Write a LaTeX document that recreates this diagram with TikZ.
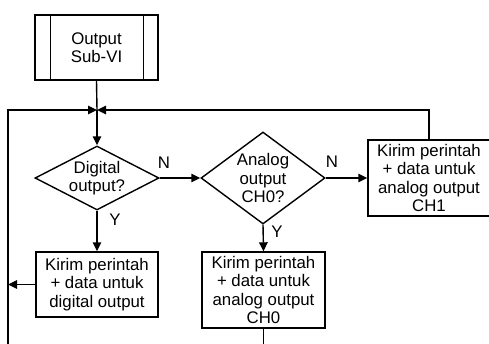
\documentclass[tikz,border=0pt]{standalone}
\usepackage{fontspec}
\setmainfont{Liberation Sans}
\usetikzlibrary{shapes.geometric,arrows.meta}
\begin{document}
\begin{tikzpicture}[x=1pt,y=-1pt,
  line width=1.4pt,
  every node/.style={font=\fontsize{16.8}{18.5}\selectfont, align=center},
  box/.style={draw, rectangle, inner sep=0pt, minimum width=122pt},
  dia/.style={draw, diamond, inner sep=0pt},
  lbl/.style={inner sep=0pt},
  arr/.style={-{Triangle[length=9pt,width=8.5pt]}}]
\useasboundingbox (0,0) rectangle (489,343);
% nodes
\node[box, minimum width=123pt, minimum height=65pt] (sub) at (96.5,47.5) {Output\\Sub-VI};
\draw ([xshift=16pt]sub.north west) -- ([xshift=16pt]sub.south west);
\draw ([xshift=-15pt]sub.north east) -- ([xshift=-15pt]sub.south east);
\coordinate (J) at (97,110);
\coordinate (L) at (8,110);
\coordinate (Lb) at (8,344);
\node[dia, minimum width=124pt, minimum height=64pt] (d1) at (97,178) {};
\node[lbl] (d1t) at (d1) {Digital\\output?};
\node[dia, minimum width=124pt, minimum height=92pt] (d2) at (263,178) {};
\node[lbl] (d2t) at (d2) {Analog\\output\\CH0?};
\node[box, minimum height=76pt] (c1) at (429,178) {Kirim perintah\\+ data untuk\\analog output\\CH1};
\node[box, minimum height=65pt] (b1) at (97,284.5) {Kirim perintah\\+ data untuk\\digital output};
\node[box, minimum width=123pt, minimum height=76pt] (b2) at (263.5,290) {Kirim perintah\\+ data untuk\\analog output\\CH0};
\coordinate (R) at (c1.north |- J);
% labels
\node[lbl] (n1) at (164,163) {N};
\node[lbl] (n2) at (332,162) {N};
\node[lbl] (y1) at (115,220) {Y};
\node[lbl] (y2) at (277,232) {Y};
% connectors
\draw (sub.south) -- (J);
\draw[arr] (J) -- (d1.north);
\draw[arr] (Lb) -- (L) -- (J);
\draw[arr] (c1.north) -- (R) -- (J);
\draw[arr] (d1.east) -- (d2.west);
\draw[arr] (d2.east) -- (c1.west);
\draw[arr] (d1.south) -- (b1.north);
\draw[arr] (d2.south) -- (b2.north);
\draw[arr] (b1.west) -- (b1.west -| Lb);
\draw (b2.south) -- (b2.south |- Lb);
\end{tikzpicture}
\end{document}
